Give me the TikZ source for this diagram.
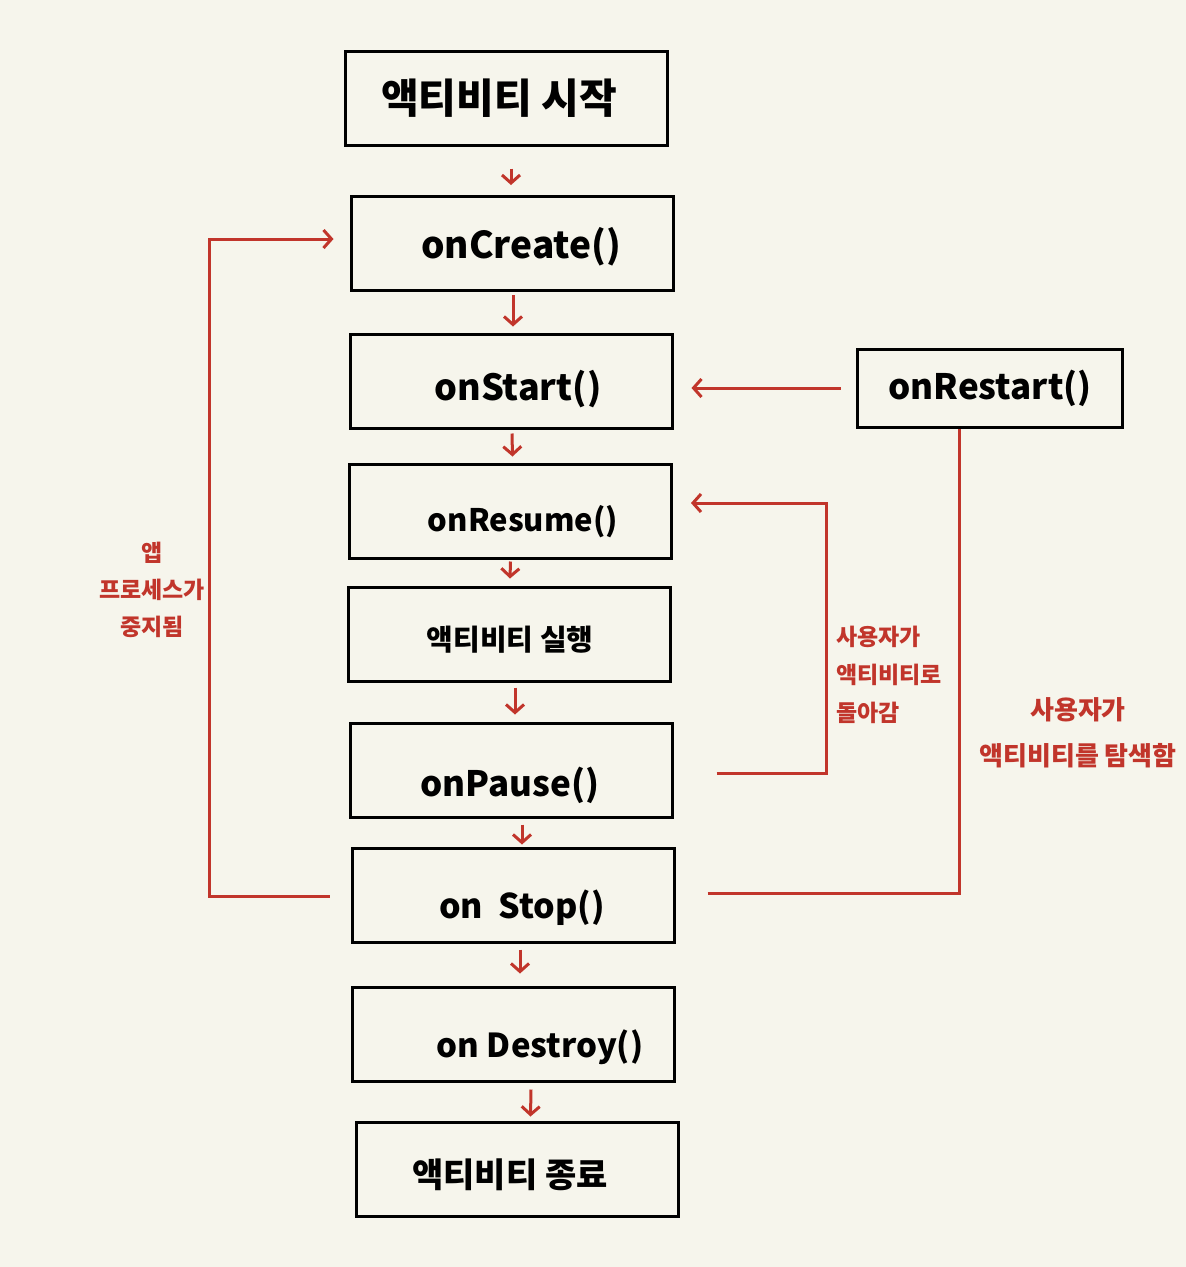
\documentclass[tikz,border=0pt]{standalone}
\usepackage{fontspec}
\setmainfont{Noto Sans CJK KR}
\usetikzlibrary{arrows.meta,calc}
\definecolor{bgc}{HTML}{F6F5EC}
\definecolor{redc}{HTML}{C1352B}
\newcommand{\fs}[1]{\fontsize{#1}{#1}\selectfont}
\begin{document}
\begin{tikzpicture}[x=1pt,y=-1pt,
  box/.style={draw=black, line width=3pt, minimum width=322pt, minimum height=94pt, inner sep=0pt},
  btext/.style={font=\fs{38}\bfseries, inner sep=0pt},
  rlab/.style={font=\fs{23}\bfseries, text=redc, align=center, inner sep=0pt},
  rline/.style={draw=redc, line width=3pt},
  rarr/.style={rline, -{Straight Barb[length=8pt,width=18pt,line width=3pt]}},
]
\fill[bgc] (0,0) rectangle (1186,1267);
\useasboundingbox (0,0) rectangle (1186,1267);

% boxes
\node[box] (start) at (506,98) {};
\node[box] (create) at (512,243.5) {};
\node[box] (startb) at (511,381) {};
\node[box, minimum width=265pt, minimum height=78pt] (restart) at (989.5,388) {};
\node[box] (resume) at (510.5,511) {};
\node[box] (run) at (509,634) {};
\node[box] (pause) at (511,770) {};
\node[box] (stop) at (513,895) {};
\node[box] (destroy) at (513,1034) {};
\node[box] (finish) at (517.5,1169) {};

% texts
\node[btext, font=\fs{41}\bfseries] (tStart) at (499,98) {액티비티 시작};
\node[btext, font=\fs{37}\bfseries] (tCreate) at (521,247) {onCreate()};
\node[btext, font=\fs{36}\bfseries] (tStartb) at (518,389) {onStart()};
\node[btext, font=\fs{35}\bfseries] (tRestart) at (990,388) {onRestart()};
\node[btext, font=\fs{31}\bfseries] (tResume) at (523,522) {onResume()};
\node[btext, font=\fs{29}\bfseries] (tRun) at (510,640) {액티비티 실행};
\node[btext, font=\fs{35}\bfseries] (tPause) at (510,785) {onPause()};
\node[btext, font=\fs{34}\bfseries] (tStop) at (522,908) {on\ \ Stop()};
\node[btext, font=\fs{33}\bfseries] (tDestroy) at (540,1047) {on Destroy()};
\node[btext, font=\fs{34}\bfseries] (tFinish) at (510,1175) {액티비티 종료};

% vertical arrows
\draw[rarr] ([xshift=5pt,yshift=-22pt]start.south) -- ([xshift=-1pt,yshift=10pt]create.north);
\draw[rarr] ([xshift=1pt,yshift=-3pt]create.south) -- ([xshift=2pt,yshift=6pt]startb.north);
\draw[rarr] ([xshift=1pt,yshift=-4pt]startb.south) -- ([xshift=2pt,yshift=6pt]resume.north);
\draw[rarr] ([xshift=0pt,yshift=-2pt]resume.south) -- ([xshift=1pt,yshift=7pt]run.north);
\draw[rarr] ([xshift=6pt,yshift=-5pt]run.south) -- ([xshift=4pt,yshift=7pt]pause.north);
\draw[rarr] ([xshift=11pt,yshift=-6pt]pause.south) -- ([xshift=9pt,yshift=2pt]stop.north);
\draw[rarr] ([xshift=7pt,yshift=-6pt]stop.south) -- ([xshift=7pt,yshift=12pt]destroy.north);
\draw[rarr] ([xshift=18pt,yshift=-7pt]destroy.south) -- ([xshift=13pt,yshift=4pt]finish.north);

% left loop: onStop -> onCreate
\draw[rarr] ([xshift=-21pt,yshift=-1pt]stop.west) -- ++(-120,0) |- ([xshift=-16pt,yshift=4.5pt]create.west);
\node[rlab] (lApp) at (152,590) {앱\\[14pt]프로세스가\\[14pt]중지됨};

% onRestart -> onStart
\draw[rarr] ([xshift=-15pt]restart.west) -- ([xshift=18pt]startb.east |- restart.west);

% onPause -> onResume
\draw[rarr] ([xshift=43pt,yshift=-3pt]pause.east) -| (826,503) -- ([xshift=18pt,yshift=8pt]resume.east);
\node[rlab, align=left] (lBack) at (889,675) {사용자가\\[15pt]액티비티로\\[15pt]돌아감};

% onStop -> onRestart
\draw[rline] ([xshift=32pt,yshift=2pt]stop.east) -| ([xshift=-30.5pt]restart.south);
\node[rlab, font=\fs{26}\bfseries] (lNav) at (1078,733) {사용자가\\[20pt]액티비티를 탐색함};
\end{tikzpicture}
\end{document}
